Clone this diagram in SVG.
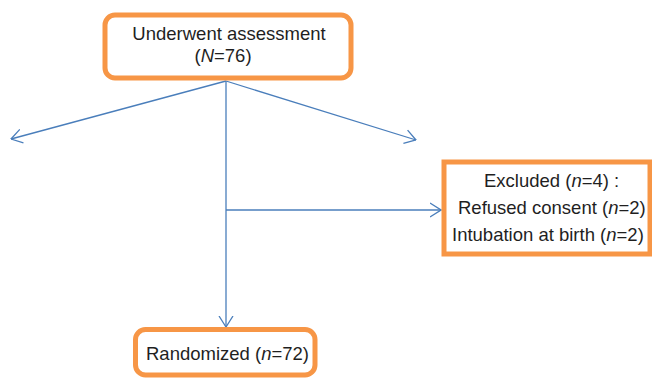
<svg xmlns="http://www.w3.org/2000/svg" width="652" height="378" viewBox="0 0 652 378">
<style>
.box{fill:#fff;stroke:#F79646;stroke-width:5}
.t{font-family:"Liberation Sans",Arial,sans-serif;font-size:18.5px;fill:#1f1f1f}
.c{fill:none;stroke:#4A7EBB;stroke-width:1.3}
</style>
<defs>
<marker id="ah" viewBox="0 0 12 16" refX="11.5" refY="8" markerWidth="12" markerHeight="16" markerUnits="userSpaceOnUse" orient="auto">
<path d="M0.5,1 L11.5,8 L0.5,15" fill="none" stroke="#4A7EBB" stroke-width="1.3"/>
</marker>
</defs>
<g id="connectors">
<line class="c" x1="226" y1="81" x2="11" y2="139" marker-end="url(#ah)"/>
<line class="c" x1="226" y1="81" x2="416" y2="140" marker-end="url(#ah)"/>
<line class="c" x1="226" y1="81" x2="226" y2="327" marker-end="url(#ah)"/>
<line class="c" x1="226" y1="210" x2="441" y2="210" marker-end="url(#ah)"/>
</g>
<g id="assessment">
<rect class="box" x="105" y="15" width="246" height="63" rx="10"/>
<text class="t" x="229" y="40" text-anchor="middle">Underwent assessment</text>
<text class="t" x="223" y="62" text-anchor="middle">(<tspan font-style="italic">N</tspan>=76)</text>
</g>
<g id="excluded">
<rect class="box" x="444" y="162" width="206" height="92"/>
<text class="t" x="484" y="187">Excluded (<tspan font-style="italic">n</tspan>=4) :</text>
<text class="t" x="458" y="214">Refused consent (<tspan font-style="italic">n</tspan>=2)</text>
<text class="t" x="452" y="241">Intubation at birth (<tspan font-style="italic">n</tspan>=2)</text>
</g>
<g id="randomized">
<rect class="box" x="135.5" y="329.5" width="179.5" height="45.5" rx="10"/>
<text class="t" x="146" y="360">Randomized (<tspan font-style="italic">n</tspan>=72)</text>
</g>
</svg>
